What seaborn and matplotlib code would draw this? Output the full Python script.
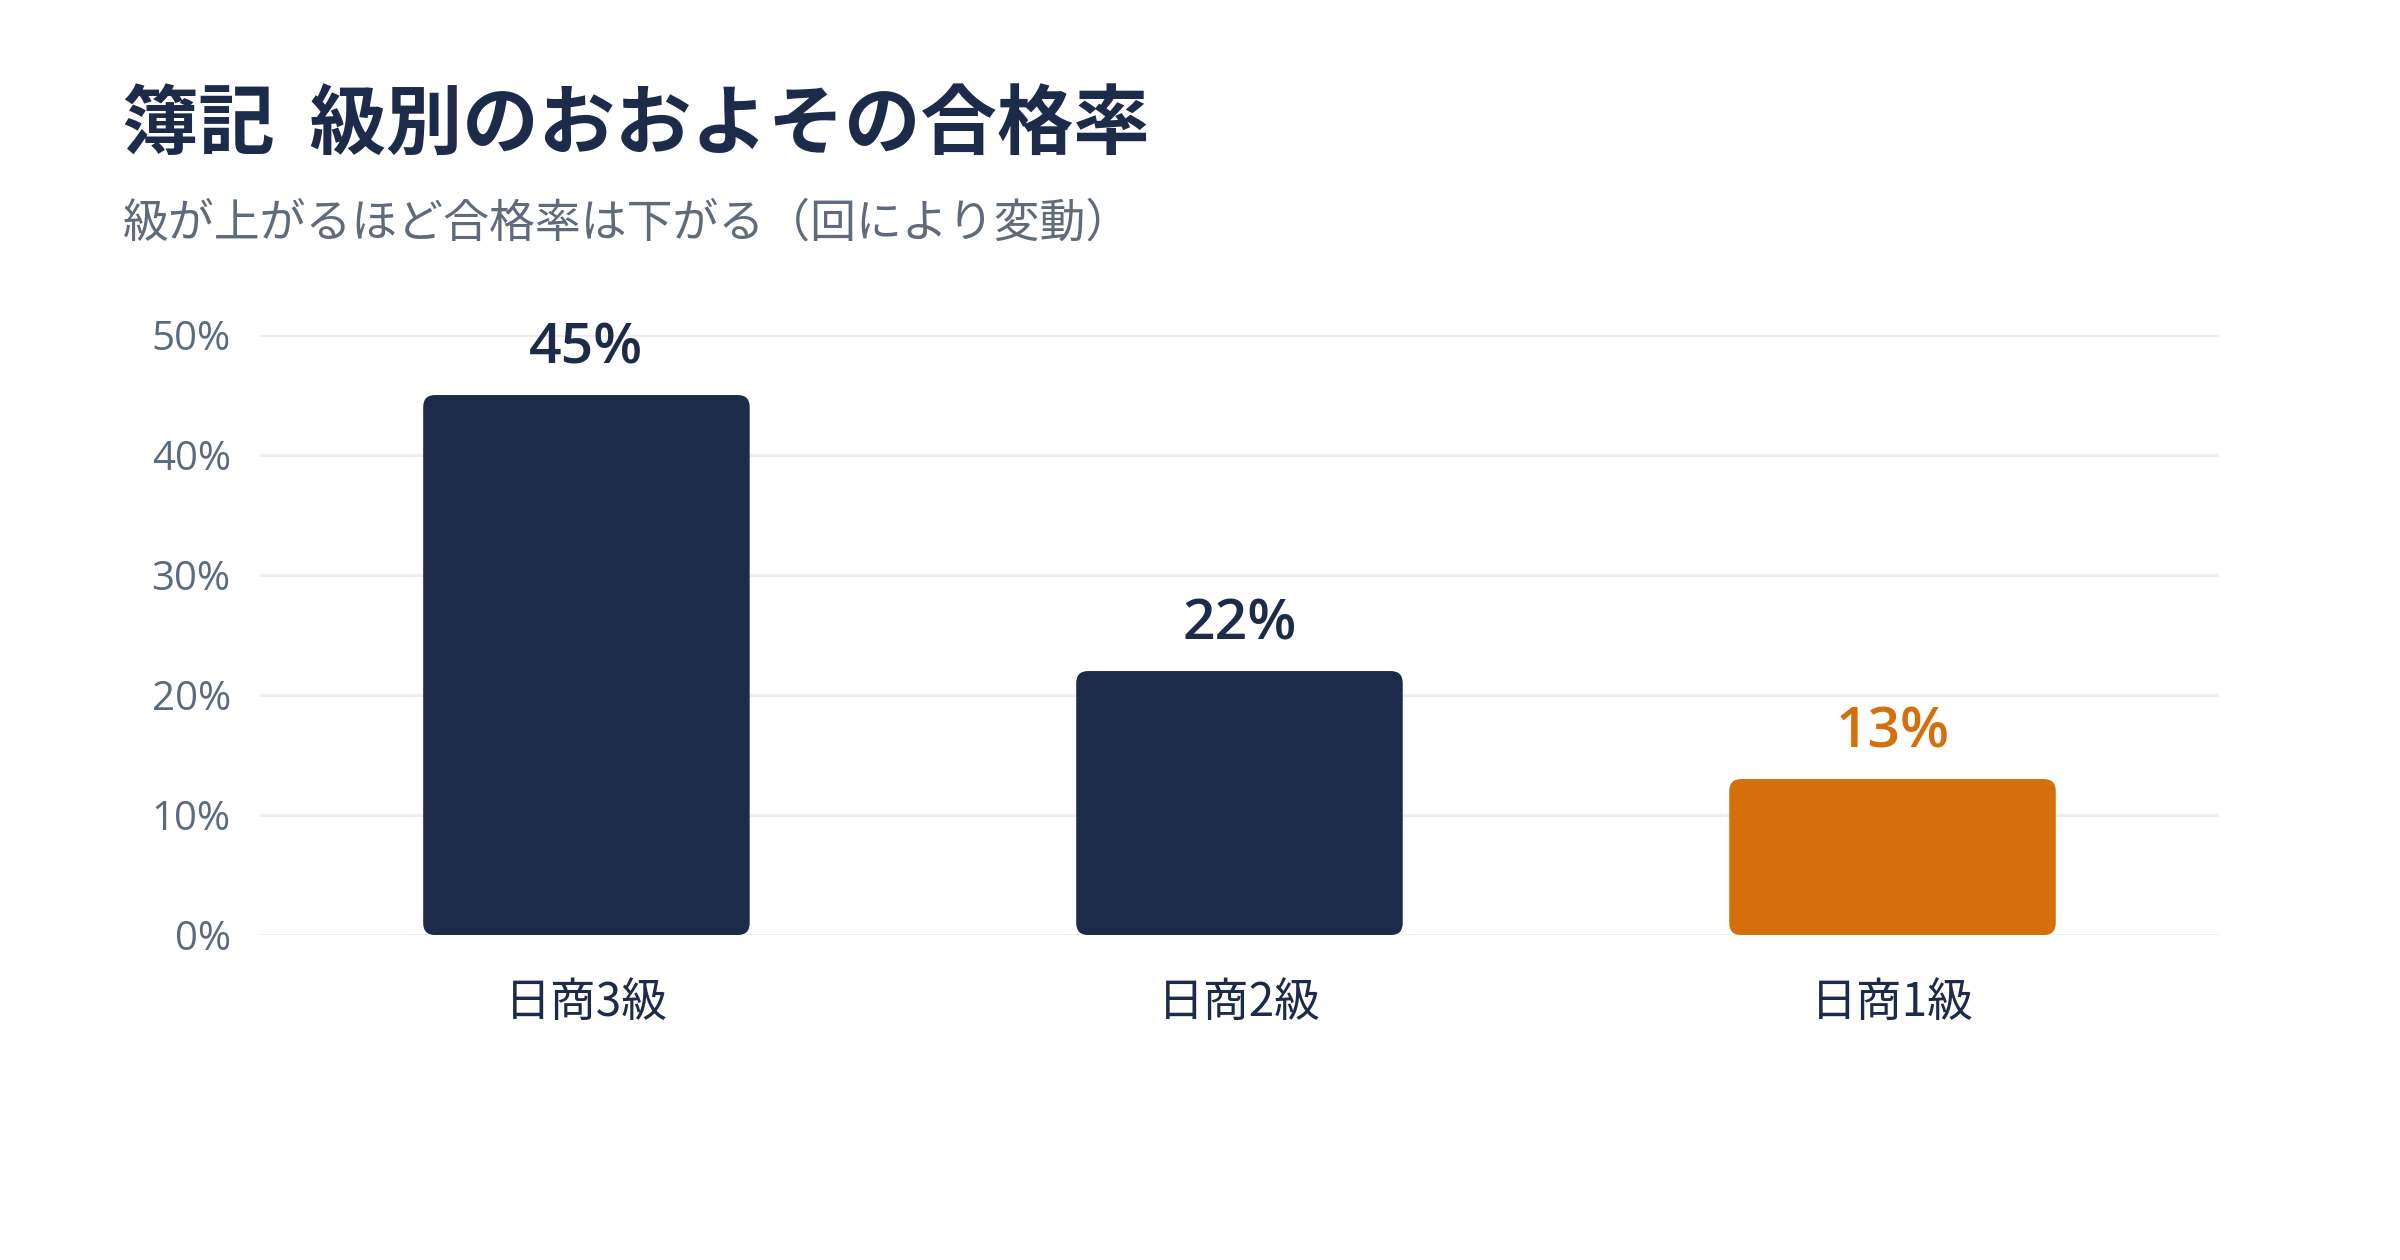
import matplotlib
matplotlib.use('Agg')
import matplotlib.pyplot as plt
from matplotlib.patches import FancyBboxPatch
import seaborn as sns
import pandas as pd

# data
levels = ['日商3級', '日商2級', '日商1級']
pass_rate = [45, 22, 13]
bar_colors = ['#1c2b4a', '#1c2b4a', '#d4700c']
yticks = [0, 10, 20, 30, 40, 50]

title = '簿記  級別のおおよその合格率'
subtitle = '級が上がるほど合格率は下がる（回により変動）'

df = pd.DataFrame({'level': levels, 'rate': pass_rate})

sns.set_style('white')
plt.rcParams['font.family'] = ['Noto Sans CJK JP', 'DejaVu Sans']

fig = plt.figure(figsize=(24, 12.6), dpi=100)
ax = fig.add_axes([0.1083, 0.2579, 0.8163, 0.4762])

sns.barplot(data=df, x='level', y='rate', hue='level', palette=bar_colors,
            width=0.5, legend=False, ax=ax, saturation=1)

ax.set_xlim(-0.5, 2.5)
ax.set_ylim(0, 50)

# swap plain bars for rounded ones of the same size
px_x = ax.bbox.width / 3.0
px_y = ax.bbox.height / 50.0
r = 12 / px_x
for p, c, v in zip(list(ax.patches), bar_colors, pass_rate):
    x0, y0 = p.get_x(), p.get_y()
    w, h = p.get_width(), p.get_height()
    p.remove()
    rb = FancyBboxPatch((x0, y0), w, h, boxstyle=f'round,pad=0,rounding_size={r}',
                        mutation_aspect=px_x / px_y, fc=c, ec='none', zorder=3)
    ax.add_patch(rb)
    ax.text(x0 + w / 2, h + 1.5, f'{v}%', ha='center', va='bottom',
            fontsize=41, fontweight='semibold', color=c,
            family=['Open Sans', 'Noto Sans CJK JP'])

ax.set_yticks(yticks)
ax.set_yticklabels([f'{t}%' for t in yticks], family=['Open Sans', 'Noto Sans CJK JP'])
ax.tick_params(axis='y', length=0, pad=21, labelsize=29, labelcolor='#5a6a80')
ax.tick_params(axis='x', length=0, pad=31, labelsize=33, labelcolor='#1c2b4a')
ax.grid(axis='y', color='#eceef3', linewidth=2.2)
ax.set_axisbelow(True)
sns.despine(ax=ax, left=True, bottom=True)
ax.set_xlabel('')
ax.set_ylabel('')

fig.text(0.051, 0.901, title, fontsize=55, fontweight='bold', color='#1c2b4a', va='center')
fig.text(0.051, 0.823, subtitle, fontsize=33, color='#5f6b7a', va='center')

fig.savefig('out.png', dpi=100, facecolor='white')
